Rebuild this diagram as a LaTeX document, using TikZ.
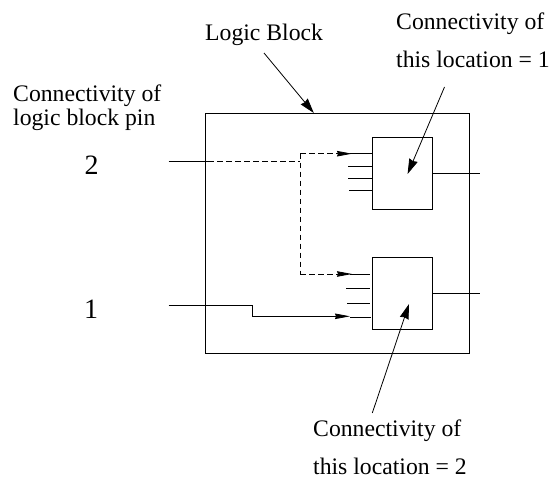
\documentclass[tikz,border=0pt]{standalone}
\usepackage{fontspec}
\setmainfont{Liberation Serif}
\usetikzlibrary{arrows.meta}
\tikzset{
 px/.style={x=1pt,y=-1pt},
 box/.style={draw,line width=0.85pt,inner sep=0pt,anchor=north west},
 wire/.style={line width=0.8pt},
 dwire/.style={wire,dash pattern=on 5.5pt off 3.5pt},
 tip/.style={-{Stealth[length=15pt,width=5.5pt,inset=1pt]}},
 bigtip/.style={-{Stealth[length=15pt,width=9pt,inset=1pt]}},
 lab/.style={font=\fontsize{23.7}{28}\selectfont,inner sep=0pt,anchor=base west},
 num/.style={font=\fontsize{28}{32}\selectfont,inner sep=0pt,anchor=base}
}
\begin{document}
\begin{tikzpicture}[px]
\useasboundingbox (0,0) rectangle (551,479);
\node[box,minimum width=264pt,minimum height=240pt] (block) at (204.5,113) {};
\node[box,minimum width=60pt,minimum height=72pt] (top) at (372,137) {};
\node[box,minimum width=60pt,minimum height=72pt] (bot) at (372,257) {};
\node[lab] (lb) at (205,40.5) {Logic Block};
\node[lab] (c1) at (396,29) {Connectivity of};
\node[lab] (c2) at (396,67.5) {this location = 1};
\node[lab] (p1) at (13,101) {Connectivity of};
\node[lab] (p2) at (13,125) {logic block pin};
\node[num] (n2) at (91.5,174.5) {2};
\node[num] (n1) at (91,318) {1};
\node[lab] (c3) at (313,436) {Connectivity of};
\node[lab] (c4) at (313,474) {this location = 2};
\coordinate (lbe) at (313.8,113);
\coordinate (lbs) at (264,53);
\coordinate (ti) at (168.5,161.3);
\coordinate (tj) at (300,161.3);
\coordinate (ta) at (352,153.7);
\coordinate (ba) at (352,274);
\coordinate (sa) at (350,316.3);
\draw[wire] (ti) -- (208,161.3);
\draw[dwire] (208,161.3) -- (tj);
\draw[dwire] (tj |- ta) -- (tj |- ba);
\draw[dwire,tip] (tj |- ta) -- (ta);
\draw[dwire,tip] (tj |- ba) -- (ba);
\draw[wire,tip] (168.5,305) -- (252,305) -- (252,316.3) -- (sa);
\draw[wire] (350,153.7) -- (372,153.7);
\draw[wire] (348,166) -- (372,166);
\draw[wire] (348,178) -- (372,178);
\draw[wire] (349,190) -- (373,190);
\draw[wire] (350,274) -- (370,274);
\draw[wire] (346,288.5) -- (370,288.5);
\draw[wire] (347,303) -- (370,303);
\draw[wire] (350,317) -- (371,317);
\draw[wire] (432,173.3) -- (480,173.3);
\draw[wire] (432,293.3) -- (480,293.3);
\draw[wire,bigtip] (lbs) -- (lbe);
\draw[wire,bigtip] (444.5,87) -- (407.6,174);
\draw[wire,bigtip] (372.3,413) -- (409,304);
\end{tikzpicture}
\end{document}
